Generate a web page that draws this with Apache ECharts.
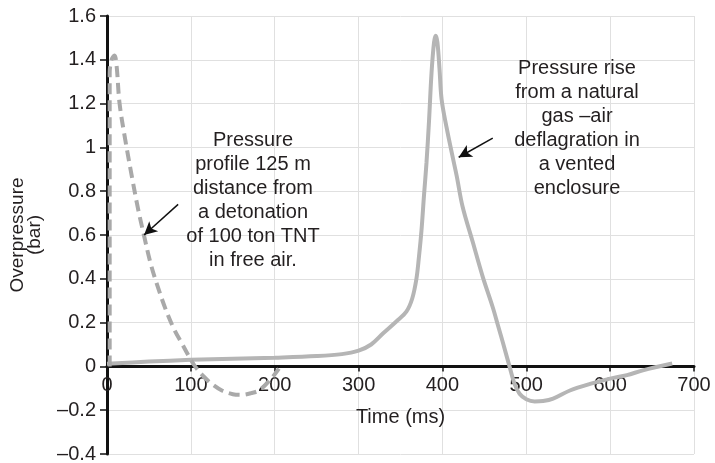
<!DOCTYPE html>
<html>
<head>
<meta charset="utf-8">
<script src="https://cdn.jsdelivr.net/npm/echarts@6/dist/echarts.min.js"></script>
<style>
	html, body { margin: 0; padding: 0; background: #fff; }
	#chart { width: 715px; height: 463px; }
</style>
</head>
<body>
<div id="chart"></div>
<script>
// detonation of 100 ton TNT, 125 m away (dashed)
const detonation = [
	[3.2, 0], [3.2, 1.34], [5.5, 1.40], [9, 1.42], [11.5, 1.37], [15, 1.2], [22, 1.03],
	[30, 0.86], [37, 0.72], [44, 0.6], [52, 0.47], [60, 0.37], [70, 0.26], [80, 0.17],
	[90, 0.1], [100, 0.03], [105, 0], [115, -0.045], [125, -0.08], [137, -0.11],
	[150, -0.127], [160, -0.13], [172, -0.122], [182, -0.108], [196, -0.055], [205, -0.01]
];

// natural gas - air deflagration in a vented enclosure (solid)
const deflagration = [
	[0, 0.012], [50, 0.022], [100, 0.03], [150, 0.035], [200, 0.04], [250, 0.047],
	[280, 0.056], [300, 0.072], [315, 0.1], [329, 0.15], [345, 0.205], [357, 0.25],
	[364, 0.31], [369, 0.4], [372, 0.5], [375, 0.62], [378, 0.78], [381, 0.93],
	[384, 1.12], [387, 1.34], [390, 1.48], [392, 1.51], [394, 1.48], [396.5, 1.36],
	[399, 1.22], [405, 1.09], [412, 0.96], [417, 0.87], [424, 0.73], [436, 0.57],
	[448, 0.41], [460, 0.27], [466, 0.19], [472, 0.11], [480, 0], [486, -0.08],
	[492, -0.125], [500, -0.15], [510, -0.16], [520, -0.158], [532, -0.147],
	[552, -0.11], [576, -0.08], [600, -0.056], [620, -0.04], [639, -0.018], [674, 0.013]
];

// arrows pointing from the notes to the curves
const arrowDetonation = [[84.8, 0.74], [44.2, 0.6]];
const arrowDeflagration = [[460, 1.042], [419.4, 0.955]];

const noteDetonation = 'Pressure\nprofile 125 m\ndistance from\na detonation\nof 100 ton TNT\nin free air.';
const noteDeflagration = 'Pressure rise\nfrom a natural\ngas \u2013air\ndeflagration in\na vented\nenclosure';

const font = '"Liberation Sans", Arial, sans-serif';
const ink = '#231f20';

const yMin = -0.4, yMax = 1.6;
const gridTop = 16, gridBottom = 9;
// the x axis sits on y = 0: shift it up from the grid bottom
const plotH = 463 - gridTop - gridBottom;
const xAxisShift = -plotH * (0 - yMin) / (yMax - yMin);

let myChart = echarts.init(document.getElementById('chart'));

const noteStyle = {
	color: ink,
	fontSize: 20,
	fontWeight: 'normal',
	fontFamily: font,
	lineHeight: 24
};

let option = {
	animation: false,
	title: [
		{ text: noteDetonation, left: 253, top: 128, textAlign: 'center', padding: 0, textStyle: noteStyle },
		{ text: noteDeflagration, left: 577, top: 56, textAlign: 'center', padding: 0, textStyle: noteStyle }
	],
	grid: {
		left: 107,
		right: 21,
		top: gridTop,
		bottom: gridBottom,
		containLabel: false,
		outerBoundsMode: 'none'
	},
	xAxis: {
		type: 'value',
		min: 0,
		max: 700,
		interval: 100,
		offset: xAxisShift,
		name: 'Time (ms)',
		nameLocation: 'middle',
		nameGap: 41,
		nameTextStyle: { color: ink, fontSize: 20, fontFamily: font },
		axisLine: { onZero: false, lineStyle: { color: '#111', width: 3 } },
		axisTick: { show: true, length: 5, lineStyle: { color: '#111', width: 1.5 } },
		axisLabel: { color: ink, fontSize: 20, fontFamily: font, margin: 9 },
		splitLine: { show: true, lineStyle: { color: '#e0e0e0', width: 1 } }
	},
	yAxis: {
		type: 'value',
		min: yMin,
		max: yMax,
		interval: 0.2,
		name: 'Overpressure\n(bar)',
		nameLocation: 'middle',
		nameGap: 64,
		nameTextStyle: { color: ink, fontSize: 19, fontFamily: font, lineHeight: 17 },
		axisLine: { show: true, onZero: false, lineStyle: { color: '#111', width: 3 } },
		axisTick: { show: true, length: 7, lineStyle: { color: '#111', width: 1.5 } },
		axisLabel: {
			color: ink, fontSize: 20, fontFamily: font, margin: 11,
			formatter: function(v) {
				let s = String(Math.round(v * 10) / 10);
				return s.replace('-', '\u2013');
			}
		},
		splitLine: { show: true, lineStyle: { color: '#e0e0e0', width: 1 } }
	},
	series: [
		{
			name: 'deflagration',
			type: 'line',
			data: deflagration,
			showSymbol: false,
			smooth: 0.35,
			lineStyle: { color: '#b5b5b5', width: 4 },
			markLine: {
				silent: true,
				symbol: ['none', 'arrow'],
				symbolSize: [10, 13],
				label: { show: false },
				lineStyle: { color: '#111', width: 1.5, type: 'solid' },
				data: [
					[{ coord: arrowDetonation[0] }, { coord: arrowDetonation[1] }],
					[{ coord: arrowDeflagration[0] }, { coord: arrowDeflagration[1] }]
				]
			}
		},
		{
			name: 'detonation',
			type: 'line',
			data: detonation,
			showSymbol: false,
			smooth: 0.35,
			lineStyle: { color: '#a9a9a9', width: 4, type: [11, 6] }
		}
	]
};

myChart.setOption(option);
</script>
</body>
</html>
